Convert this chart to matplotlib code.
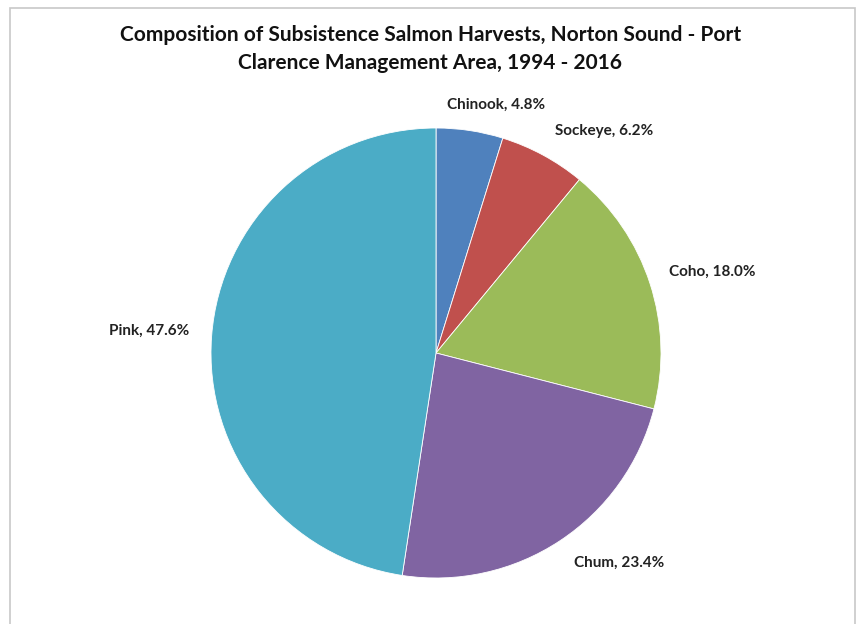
import numpy as np
import matplotlib
matplotlib.use("Agg")
import matplotlib.pyplot as plt
from matplotlib.patches import Rectangle

species = ["Chinook", "Sockeye", "Coho", "Chum", "Pink"]
shares = [4.8, 6.2, 18.0, 23.4, 47.6]
colors = ["#4F81BD", "#C0504D", "#9BBB59", "#8064A2", "#4BACC6"]
# label placement: distance in pie radii and angular nudge (deg) from wedge middle
label_dist = [1.134, 1.237, 1.278, 1.238, 1.279]
label_shift = [-5.0, -8.7, -1.6, 7.6, -0.1]

W, H = 859, 624
cx, cy, r = 436, H - 353, 225

plt.rcParams["font.family"] = ["Lato", "DejaVu Sans"]

fig = plt.figure(figsize=(W / 100, H / 100), dpi=100)
ax = fig.add_axes([0, 0, 1, 1])

# chart frame
ax.add_patch(Rectangle((10, -5), W - 14, H - 3, fill=False,
                       edgecolor="#C8C8C8", linewidth=1.2))

wedges, _ = ax.pie(shares, colors=colors, startangle=90, counterclock=False,
                   center=(cx, cy), radius=r, frame=True,
                   wedgeprops=dict(linewidth=0.6, edgecolor="white"))
ax.set_xlim(0, W)
ax.set_ylim(0, H)
ax.set_aspect("equal")
ax.axis("off")

for w, name, val, d, s in zip(wedges, species, shares, label_dist, label_shift):
    ang = np.deg2rad((w.theta1 + w.theta2) / 2 + s)
    x = cx + r * d * np.cos(ang)
    y = cy + r * d * np.sin(ang)
    ax.text(x, y, f"{name}, {val:.1f}%", ha="center", va="center",
            fontsize=11, fontweight="bold", color="#222222")

ax.text(W / 2 + 1, H - 49, "Composition of Subsistence Salmon Harvests, Norton Sound - Port\n"
        "Clarence Management Area, 1994 - 2016", ha="center", va="center",
        fontsize=15, fontweight="bold", color="#111111", linespacing=1.45)

fig.savefig("out.png", dpi=100)
